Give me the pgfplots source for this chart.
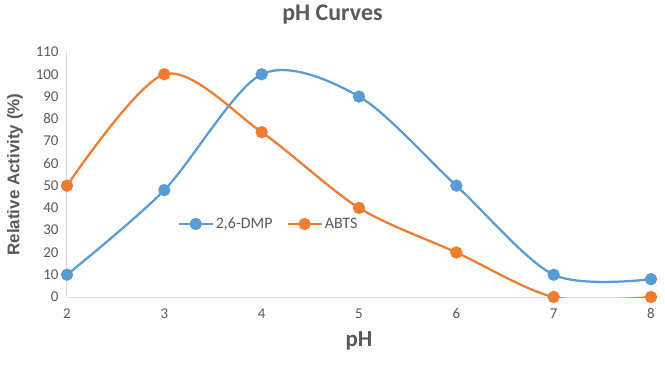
\documentclass[border=0pt]{standalone}
\usepackage{pgfplots}
\pgfplotsset{compat=1.18}
\usepackage{fontspec}
\setmainfont{Carlito}
\newfontfamily\arialfont{Liberation Sans}
\definecolor{txtgray}{HTML}{595959}
\definecolor{axgray}{HTML}{D9D9D9}
\definecolor{cblue}{HTML}{5B9BD5}
\definecolor{corange}{HTML}{ED7D31}
\begin{document}
\begin{tikzpicture}
\begin{axis}[
  at={(0,0)}, anchor=south west,
  scale only axis, width=584bp, height=245bp,
  xmin=2, xmax=8, ymin=0, ymax=110,
  xtick={2,3,4,5,6,7,8},
  ytick={0,10,...,110},
  axis lines*=left,
  axis line style={axgray, line width=1bp},
  major tick length=0pt,
  /pgf/number format/assume math mode=true,
  tick label style={font=\fontsize{15}{18}\selectfont, text=txtgray},
  yticklabel style={xshift=-5bp},
  xticklabel style={yshift=-8bp},
  title={\bfseries pH Curves},
  title style={at={([yshift=31bp]rel axis cs:0.4546,1)}, anchor=center, font=\fontsize{24}{28}\selectfont, text=txtgray},
  xlabel={\bfseries pH},
  xlabel style={at={([yshift=-44bp]rel axis cs:0.5,0)}, anchor=center, font=\fontsize{23}{27}\selectfont, text=txtgray},
  ylabel={\arialfont\bfseries Relative Activity (\%)},
  ylabel style={at={([xshift=-52bp]rel axis cs:0,0.5)}, anchor=center, font=\fontsize{17}{20}\selectfont, text=txtgray},
  legend columns=2,
  legend style={draw=none, fill=none, at={(0.345,0.298)}, anchor=center,
    font=\fontsize{16}{19}\selectfont, text=txtgray,
    /tikz/every even column/.append style={column sep=12bp}},
  legend image code/.code={
    \draw[mark repeat=2,mark phase=2] plot coordinates {(0bp,0bp) (17bp,0bp) (34bp,0bp)};
  },
]
\addplot[cblue, line width=2.25bp, smooth, tension=0.5, mark=*, mark size=5bp, mark options={solid, fill=cblue, draw=none}]
  coordinates {(2,10) (3,48) (4,100) (5,90) (6,50) (7,10) (8,8)};
\addlegendentry{2,6-DMP}
\addplot[corange, line width=2.25bp, smooth, tension=0.5, mark=*, mark size=5bp, mark options={solid, fill=corange, draw=none}]
  coordinates {(2,50) (3,100) (4,74) (5,40) (6,20) (7,0) (8,0)};
\addlegendentry{ABTS}
\end{axis}
\path[use as bounding box] (-67bp,-71bp) rectangle (598bp,297bp);
\end{tikzpicture}
\end{document}
